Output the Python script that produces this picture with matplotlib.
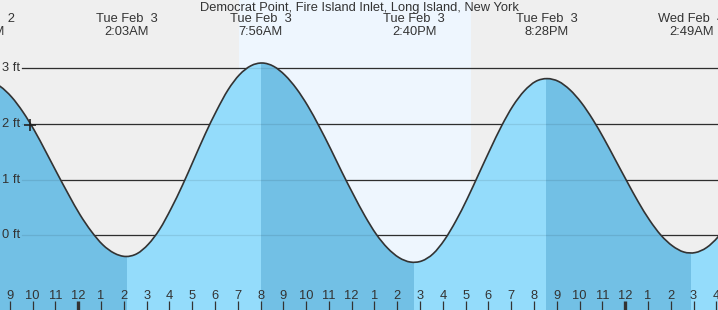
import matplotlib.pyplot as plt
import matplotlib.transforms as mtransforms
from matplotlib.path import Path
from matplotlib.patches import PathPatch
import numpy as np

plt.rcParams['font.family'] = ['Liberation Sans', 'DejaVu Sans']

# hours after midnight, Tue Feb 3
t_start, t_end = -3.51, 28.0
times = np.arange(-4.0, 28.51, 0.5)
heights = [2.77, 2.67, 2.48, 2.21, 1.88, 1.50, 1.11, 0.73,
           0.37, 0.07, -0.17, -0.32, -0.38, -0.33, -0.16, 0.11,
           0.48, 0.90, 1.36, 1.82, 2.24, 2.61, 2.88, 3.04,
           3.09, 3.03, 2.87, 2.63, 2.32, 1.95, 1.55, 1.13,
           0.73, 0.35, 0.02, -0.23, -0.40, -0.48, -0.46, -0.33,
           -0.08, 0.26, 0.66, 1.10, 1.54, 1.96, 2.32, 2.59,
           2.76, 2.81, 2.76, 2.61, 2.38, 2.08, 1.73, 1.35,
           0.97, 0.60, 0.27, 0.00, -0.19, -0.30, -0.31, -0.22,
           -0.03, 0.25]

event_times = [-4.27, 2.05, 7.93, 14.67, 20.47, 26.82]
event_days = ['Mon Feb  2', 'Tue Feb  3', 'Tue Feb  3', 'Tue Feb  3', 'Tue Feb  3', 'Wed Feb  4']
event_clock = ['7:44PM', '2:03AM', '7:56AM', '2:40PM', '8:28PM', '2:49AM']
falling = [(-10, 2.05), (7.93, 14.67), (20.47, 26.82)]

sunrise, sunset = 6.98, 17.17
now_time, now_height = -2.19, 1.98

ft_levels = [0, 1, 2, 3]
hour_ticks = list(range(-3, 29))
hour_labels = ['9', '10', '11', '12', '1', '2', '3', '4', '5', '6', '7', '8',
               '9', '10', '11', '12', '1', '2', '3', '4', '5', '6', '7', '8',
               '9', '10', '11', '12', '1', '2', '3', '4']
midnights = [0, 24]

txt = '#333333'
night_bg = '#efefef'
day_bg = '#eef6fe'
light_fill = '#94dcfb'
dark_fill = '#72c0e5'


def smooth_path(xs, ys):
    # smooth line through the points (Catmull-Rom drawn as cubic Bezier segments)
    pts = np.column_stack([xs, ys])
    verts = [pts[0]]
    codes = [Path.MOVETO]
    for i in range(len(pts) - 1):
        p0 = pts[max(i - 1, 0)]
        p1, p2 = pts[i], pts[i + 1]
        p3 = pts[min(i + 2, len(pts) - 1)]
        verts += [p1 + (p2 - p0) / 6, p2 - (p3 - p1) / 6, p2]
        codes += [Path.CURVE4] * 3
    return verts, codes


fig = plt.figure(figsize=(7.18, 3.10), dpi=100)
ax = fig.add_axes([0, 0, 1, 1])
ax.set_xlim(t_start, t_end)
ax.set_ylim(-1.34, 4.22)
ax.axis('off')
ax.add_patch(plt.Rectangle((0, 0), 1, 1, transform=ax.transAxes, color=night_bg, zorder=0))
ax.axvspan(sunrise, sunset, color=day_bg, zorder=0.5, lw=0)

trans = mtransforms.blended_transform_factory(ax.transData, ax.transAxes)
x_grid0 = t_start + 22 / 22.79

for lv in ft_levels:
    ax.plot([x_grid0, t_end], [lv, lv], color='#333333', lw=0.9, zorder=1)
    ax.plot([x_grid0, t_end], [lv, lv], color='#000000', alpha=0.09, lw=0.9, zorder=3)
    ax.text(t_start + 20.5 / 22.79, lv, f'{lv} ft', ha='right', va='center',
            fontsize=9.3, color=txt, zorder=5)

verts, codes = smooth_path(times, heights)
fill_verts = verts + [(times[-1], -5), (times[0], -5), verts[0]]
fill_codes = codes + [Path.LINETO, Path.LINETO, Path.CLOSEPOLY]
fill_path = Path(fill_verts, fill_codes)
ax.add_patch(PathPatch(fill_path, facecolor=light_fill, lw=0, zorder=2))
for a, b in falling:
    span = ax.axvspan(a, b, color=dark_fill, lw=0, zorder=2.1)
    span.set_clip_path(fill_path, ax.transData)

ax.add_patch(PathPatch(Path(verts, codes), facecolor='none', edgecolor='#333333',
                       lw=1.2, zorder=4))
ax.plot([now_time], [now_height], marker='+', ms=9, mew=1.2, color='#222222', zorder=6)

# hour ticks along the bottom (drawn slightly left of the hour, as in the source)
for h, lab in zip(hour_ticks, hour_labels):
    x = h - 0.075
    lw = 2.4 if h in midnights else 0.9
    ax.plot([x, x], [0, 0.029], transform=trans, color='#333333', lw=lw, zorder=6,
            solid_capstyle='butt')
    ax.text(x, 0.046, lab, transform=trans, ha='center', va='center',
            fontsize=9.3, color=txt, zorder=6)

ax.text(0.5, 1 - 7.5 / 310, 'Democrat Point, Fire Island Inlet, Long Island, New York',
        transform=ax.transAxes, ha='center', va='center', fontsize=9.3, color=txt, zorder=6)
for et, d, c in zip(event_times, event_days, event_clock):
    ax.text(et, 1 - 19.5 / 310, d, transform=trans, ha='center', va='center',
            fontsize=9.3, color=txt, zorder=6)
    ax.text(et, 1 - 32 / 310, c, transform=trans, ha='center', va='center',
            fontsize=9.3, color=txt, zorder=6)

fig.savefig('out.png', dpi=100)
